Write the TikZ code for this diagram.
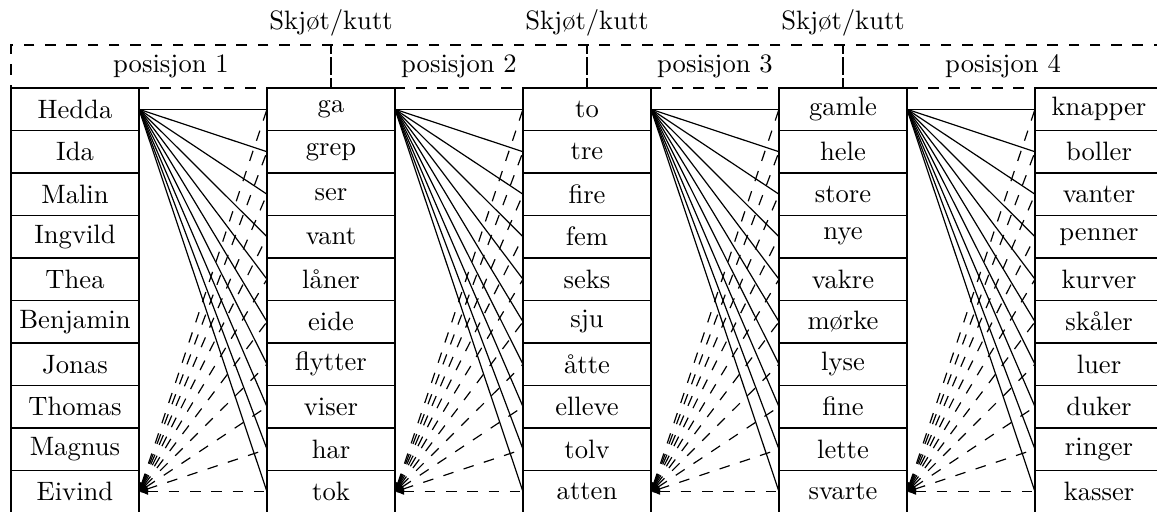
\documentclass[tikz,border=0pt]{standalone}
\usepackage{fontspec}
\usepackage{tikz}
\usetikzlibrary{arrows.meta,positioning}

\begin{document}
\begin{tikzpicture}[x=0.376pt,y=-0.376pt,
	cell/.style={draw,line width=0.5pt,minimum width=48.13pt,minimum height=15.98pt,inner sep=0pt,outer sep=0pt},
	region/.style={draw,line width=0.5pt,dash pattern=on 4pt off 4pt,minimum height=16.17pt,inner sep=0pt,outer sep=0pt},
	backlink/.style={line width=0.45pt,dash pattern=on 4pt off 4pt,{Latex[length=3.4pt,width=2.4pt]}-}]
			\useasboundingbox (0,0) rectangle (1157,511);

			\node[region,minimum width=120.3pt] (P1) at (171,66.5) {posisjon 1};
			\node[region,minimum width=96.26pt] (P2) at (459,66.5) {posisjon 2};
			\node[region,minimum width=96.26pt] (P3) at (715,66.5) {posisjon 3};
			\node[region,minimum width=120.3pt] (P4) at (1003,66.5) {posisjon 4};
			\node (S1) at (331,22.6) {Skjøt/kutt};
			\node (S2) at (587,22.6) {Skjøt/kutt};
			\node (S3) at (843,22.6) {Skjøt/kutt};

			\node[cell] (a1) at (75,109.25) {Hedda};
			\node[cell] (a2) at (75,151.75) {Ida};
			\node[cell] (a3) at (75,194.25) {Malin};
			\node[cell] (a4) at (75,236.75) {Ingvild};
			\node[cell] (a5) at (75,279.25) {Thea};
			\node[cell] (a6) at (75,321.75) {Benjamin};
			\node[cell] (a7) at (75,364.25) {Jonas};
			\node[cell] (a8) at (75,406.75) {Thomas};
			\node[cell] (a9) at (75,449.25) {Magnus};
			\node[cell] (a10) at (75,491.75) {Eivind};

			\node[cell] (b1) at (331,109.25) {ga};
			\node[cell] (b2) at (331,151.75) {grep};
			\node[cell] (b3) at (331,194.25) {ser};
			\node[cell] (b4) at (331,236.75) {vant};
			\node[cell] (b5) at (331,279.25) {låner};
			\node[cell] (b6) at (331,321.75) {eide};
			\node[cell] (b7) at (331,364.25) {flytter};
			\node[cell] (b8) at (331,406.75) {viser};
			\node[cell] (b9) at (331,449.25) {har};
			\node[cell] (b10) at (331,491.75) {tok};

			\node[cell] (c1) at (587,109.25) {to};
			\node[cell] (c2) at (587,151.75) {tre};
			\node[cell] (c3) at (587,194.25) {fire};
			\node[cell] (c4) at (587,236.75) {fem};
			\node[cell] (c5) at (587,279.25) {seks};
			\node[cell] (c6) at (587,321.75) {sju};
			\node[cell] (c7) at (587,364.25) {åtte};
			\node[cell] (c8) at (587,406.75) {elleve};
			\node[cell] (c9) at (587,449.25) {tolv};
			\node[cell] (c10) at (587,491.75) {atten};

			\node[cell] (d1) at (843,109.25) {gamle};
			\node[cell] (d2) at (843,151.75) {hele};
			\node[cell] (d3) at (843,194.25) {store};
			\node[cell] (d4) at (843,236.75) {nye};
			\node[cell] (d5) at (843,279.25) {vakre};
			\node[cell] (d6) at (843,321.75) {mørke};
			\node[cell] (d7) at (843,364.25) {lyse};
			\node[cell] (d8) at (843,406.75) {fine};
			\node[cell] (d9) at (843,449.25) {lette};
			\node[cell] (d10) at (843,491.75) {svarte};

			\node[cell] (e1) at (1099,109.25) {knapper};
			\node[cell] (e2) at (1099,151.75) {boller};
			\node[cell] (e3) at (1099,194.25) {vanter};
			\node[cell] (e4) at (1099,236.75) {penner};
			\node[cell] (e5) at (1099,279.25) {kurver};
			\node[cell] (e6) at (1099,321.75) {skåler};
			\node[cell] (e7) at (1099,364.25) {luer};
			\node[cell] (e8) at (1099,406.75) {duker};
			\node[cell] (e9) at (1099,449.25) {ringer};
			\node[cell] (e10) at (1099,491.75) {kasser};

			% first word to every word of the next position, and back to the last word
			\foreach \s/\t in {a/b,b/c,c/d,d/e}{
				\foreach \k in {1,...,10}{
					\draw[line width=0.45pt] (\s1.east) -- (\t\k.west);
					\draw[backlink] (\s10.east) -- (\t\k.west);
				}
			}
		\end{tikzpicture}
\end{document}
